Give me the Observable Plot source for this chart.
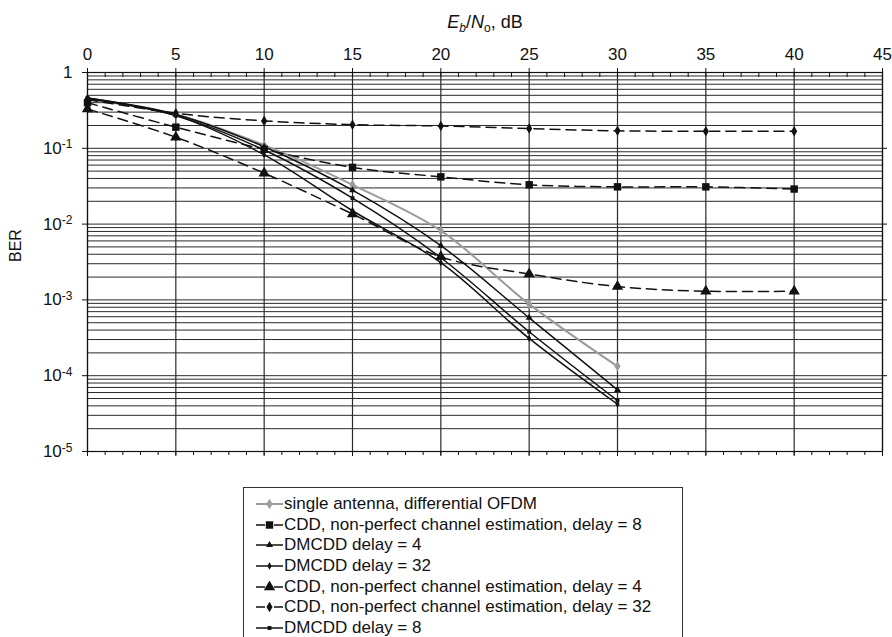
<!DOCTYPE html>
<html>
<head>
<meta charset="utf-8">
<script src="https://cdn.jsdelivr.net/npm/d3@7"></script>
<script src="https://cdn.jsdelivr.net/npm/@observablehq/plot@0.6"></script>
<style>
  html, body { margin: 0; padding: 0; background: #fff; }
  #wrap { position: relative; width: 892px; height: 637px; overflow: hidden; font-family: "Liberation Sans", Arial, sans-serif; color: #111; }
  #title { position: absolute; top: 12px; left: 385px; width: 200px; text-align: center; font-size: 18px; }
  #title sub { font-size: 12px; vertical-align: -4px; }
  #legend { position: absolute; left: 243px; top: 487px; width: 440px; height: 200px; border-left: 1px solid #333; border-top: 1px solid #333; border-right: 1px solid #333; box-sizing: border-box; padding-top: 6px; }
  .lrow { display: flex; align-items: center; height: 20.6px; font-size: 17px; white-space: nowrap; }
  .lrow svg { margin-left: 12px; margin-right: 1px; flex: none; }
</style>
</head>
<body>
<div id="wrap">
  <div id="chart"></div>
  <div id="title"><i>E</i><sub><i>b</i></sub>/<i>N</i><sub>o</sub>, dB</div>
  <div id="legend"></div>
</div>
<script>
// ---------- data ----------
const ebno = [0, 5, 10, 15, 20, 25, 30, 35, 40];

const seriesNames = [
  "single antenna, differential OFDM",
  "CDD, non-perfect channel estimation, delay = 8",
  "DMCDD delay = 4",
  "DMCDD delay = 32",
  "CDD, non-perfect channel estimation, delay = 4",
  "CDD, non-perfect channel estimation, delay = 32",
  "DMCDD delay = 8"
];

const singleAntenna = [0.44, 0.28, 0.11, 0.033, 0.0082, 0.00088, 0.000133];
const cddDelay8    = [0.40, 0.19, 0.097, 0.056, 0.042, 0.033, 0.031, 0.031, 0.029];
const dmcddDelay4  = [0.46, 0.28, 0.105, 0.028, 0.0052, 0.00058, 0.000065];
const dmcddDelay32 = [0.45, 0.27, 0.082, 0.015, 0.0031, 0.00031, 0.000042];
const cddDelay4    = [0.33, 0.14, 0.047, 0.0136, 0.0037, 0.0022, 0.0015, 0.0013, 0.0013];
const cddDelay32   = [0.44, 0.29, 0.23, 0.205, 0.197, 0.182, 0.17, 0.168, 0.168];
const dmcddDelay8  = [0.46, 0.27, 0.095, 0.022, 0.0036, 0.00038, 0.000047];

const xTicks = [0, 5, 10, 15, 20, 25, 30, 35, 40, 45];
const yTicks = [1, 1e-1, 1e-2, 1e-3, 1e-4, 1e-5];

// ---------- styles ----------
const seriesValues = [singleAntenna, cddDelay8, dmcddDelay4, dmcddDelay32, cddDelay4, cddDelay32, dmcddDelay8];
const styles = [
  {color: "#9b9b9b", dash: null, symbol: "diamond", r: 3.2, width: 2},
  {color: "#111", dash: "10,6", symbol: "square", r: 4.2, width: 1.5},
  {color: "#111", dash: null, symbol: "triangle", r: 2.6, width: 1.5},
  {color: "#111", dash: null, symbol: "diamond", r: 2.2, width: 1.5},
  {color: "#111", dash: "10,6", symbol: "triangle", r: 4.2, width: 1.5},
  {color: "#111", dash: "10,6", symbol: "diamond", r: 3.2, width: 1.5},
  {color: "#111", dash: null, symbol: "square", r: 2.2, width: 1.5}
];

const rows = seriesNames.map((name, k) => seriesValues[k].map((v, i) => ({name, x: ebno[i], y: v})));

// log grid lines (1..9 x 10^k)
const yGrid = [];
for (let e = -5; e < 0; e++) for (let m = 1; m <= 9; m++) yGrid.push(m * Math.pow(10, e));
yGrid.push(1);
const minorX = d3.range(0, 46, 1);
const noText = () => "";

const marks = [
  Plot.ruleY(yGrid, {stroke: "#2a2a2a", strokeWidth: 1}),
  Plot.ruleX(xTicks, {stroke: "#2a2a2a", strokeWidth: 1.2}),
  Plot.frame({stroke: "#111", strokeWidth: 1.2}),
  Plot.axisX({anchor: "top", ticks: xTicks, tickSize: 5, tickPadding: 8, label: null, fontSize: 17}),
  Plot.axisX({anchor: "top", ticks: minorX, tickSize: 4, dy: 4, tickFormat: noText, label: null}),
  Plot.axisX({anchor: "bottom", ticks: minorX, tickSize: 4, tickFormat: noText, label: null}),
  Plot.axisX({anchor: "bottom", ticks: xTicks, tickSize: 5, tickFormat: noText, label: null}),
  Plot.axisY({anchor: "left", ticks: yTicks, tickSize: 5, tickPadding: 10, label: null, fontSize: 17,
    tickFormat: d => d === 1 ? "1" : "10^" + Math.round(Math.log10(d))}),
  Plot.axisY({anchor: "right", ticks: yTicks.slice(1, 5), tickSize: 4, tickFormat: noText, label: null}),
  Plot.text(["BER"], {frameAnchor: "left", dx: -72, rotate: -90, fontSize: 16})
];

seriesNames.forEach((name, k) => {
  const s = styles[k];
  marks.push(Plot.line(rows[k], {x: "x", y: "y", stroke: s.color, strokeWidth: s.width,
    strokeDasharray: s.dash || undefined, curve: "catmull-rom"}));
});
seriesNames.forEach((name, k) => {
  const s = styles[k];
  marks.push(Plot.dot(rows[k], {x: "x", y: "y", symbol: () => s.symbol, r: s.r, fill: s.color, stroke: "none"}));
});

const chart = Plot.plot({
  width: 892,
  height: 470,
  marginLeft: 87,
  marginRight: 10,
  marginTop: 72,
  marginBottom: 19,
  style: {fontFamily: "'Liberation Sans', Arial, sans-serif", fontSize: "16px", color: "#111", background: "transparent"},
  x: {domain: [0, 45]},
  y: {type: "log", domain: [1e-5, 1]},
  marks
});

// superscript exponents on y tick labels
chart.querySelectorAll('[aria-label="y-axis tick label"] text').forEach(t => {
  const s = t.textContent;
  if (s.includes("^")) {
    const [b, e] = s.split("^");
    t.textContent = "";
    const ns = "http://www.w3.org/2000/svg";
    const t1 = document.createElementNS(ns, "tspan"); t1.textContent = b;
    const t2 = document.createElementNS(ns, "tspan"); t2.textContent = e;
    t2.setAttribute("dy", "-0.45em"); t2.setAttribute("font-size", "12px");
    t.appendChild(t1); t.appendChild(t2);
  }
});
document.getElementById("chart").appendChild(chart);

// ---------- legend ----------
const legend = d3.select("#legend");
seriesNames.forEach((name, k) => {
  const s = styles[k];
  const row = legend.append("div").attr("class", "lrow");
  const svg = row.append("svg").attr("width", 27).attr("height", 12);
  svg.append("line").attr("x1", 0).attr("x2", 27).attr("y1", 6).attr("y2", 6)
    .attr("stroke", s.color).attr("stroke-width", s.width)
    .attr("stroke-dasharray", s.dash ? "9,9" : null);
  const sym = {square: d3.symbolSquare, diamond: d3.symbolDiamond, triangle: d3.symbolTriangle}[s.symbol];
  svg.append("path").attr("transform", "translate(13.5,6)")
    .attr("d", d3.symbol(sym, Math.PI * s.r * s.r)()).attr("fill", s.color);
  row.append("span").text(name);
});
</script>
</body>
</html>
